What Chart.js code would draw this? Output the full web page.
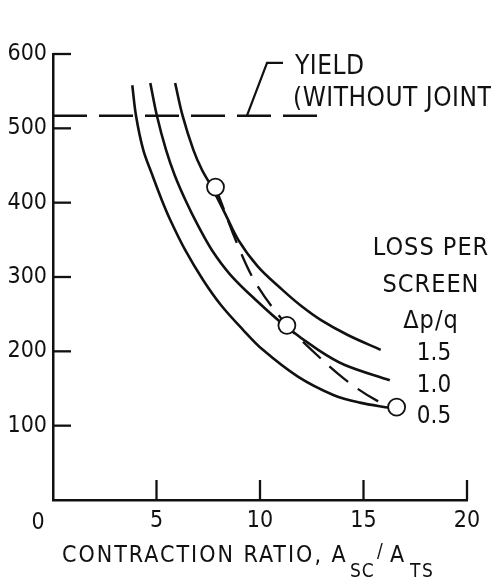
<!DOCTYPE html>
<html><head><meta charset="utf-8">
<script src="https://cdn.jsdelivr.net/npm/chart.js@4"></script>
<style>html,body{margin:0;padding:0;background:#fff;}</style>
</head><body>
<canvas id="c" width="491" height="583"></canvas>
<script>
const FONT = '"DejaVu Sans Condensed","DejaVu Sans",sans-serif';
const INK = '#111';

// axis ticks
const xTicks = [0, 5, 10, 15, 20];
const yTicks = [100, 200, 300, 400, 500, 600];

// loss per screen curves (dp/q)
const lossLabels = ['1.5', '1.0', '0.5'];
const curve15X = [5.90, 6.26, 6.78, 7.20, 7.67, 8.32, 8.95, 9.90, 11.07, 11.95, 12.95, 14.24, 15.83];
const curve15Y = [561, 517, 471, 444, 421, 385, 350, 314, 283, 262, 242, 222, 202];
const curve10X = [4.70, 5.02, 5.46, 5.88, 6.39, 6.99, 7.68, 8.57, 9.80, 11.18, 12.81, 14.07, 16.27];
const curve10Y = [561, 517, 471, 437, 404, 370, 336, 303, 269, 235, 202, 182, 161];
const curve05X = [3.83, 4.01, 4.36, 4.80, 5.25, 5.66, 6.39, 7.25, 8.12, 9.18, 10.14, 11.83, 13.57, 14.82, 16.27];
const curve05Y = [558, 517, 471, 437, 404, 377, 336, 296, 262, 229, 202, 166, 141, 131, 124];

// optimum (dashed) line and circled points
const optX = [7.85, 9.04, 9.90, 11.30, 12.41, 14.07, 15.69, 16.6];
const optY = [421, 335, 287, 235, 204, 163, 133, 125];
const circX = [7.85, 11.30, 16.6];
const circY = [421, 235, 125];

// yield (without joint)
const yieldX = [0, 13.05];
const yieldY = [517, 517];
const leaderX = [9.37, 10.34, 11.11];
const leaderY = [517, 588, 588];

const pts = (xs, ys) => xs.map((v, i) => ({x: v, y: ys[i]}));
const curveDs = (xs, ys) => ({
  data: pts(xs, ys), borderColor: INK, borderWidth: 2.6, pointRadius: 0,
  tension: 0.35, fill: false, order: 2
});

const decor = {
  id: 'decor',
  afterDraw(chart) {
    const {ctx, scales: {x, y}} = chart;
    const left = x.getPixelForValue(0), bottom = y.getPixelForValue(0);
    ctx.save();
    ctx.strokeStyle = INK; ctx.fillStyle = INK; ctx.lineWidth = 2.3;
    // inward ticks
    xTicks.forEach(v => { if (v === 0) return; const px = x.getPixelForValue(v);
      ctx.beginPath(); ctx.moveTo(px, bottom); ctx.lineTo(px, bottom - 20); ctx.stroke(); });
    yTicks.forEach(v => { const py = y.getPixelForValue(v);
      ctx.beginPath(); ctx.moveTo(left, py); ctx.lineTo(left + 18, py); ctx.stroke(); });
    // leader of yield note
    ctx.lineWidth = 2.2;
    ctx.beginPath();
    leaderX.forEach((v, i) => { const px = x.getPixelForValue(v), py = y.getPixelForValue(leaderY[i]);
      i ? ctx.lineTo(px, py) : ctx.moveTo(px, py); });
    ctx.stroke();
    // origin label
    ctx.font = '23px ' + FONT; ctx.textAlign = 'center'; ctx.textBaseline = 'alphabetic';
    ctx.fillText('0', left - 15, bottom + 29);
    // yield text
    ctx.textAlign = 'left';
    ctx.font = '26px ' + FONT; ctx.letterSpacing = '0.5px';
    ctx.fillText('YIELD', 295, 74);
    ctx.fillText('(WITHOUT JOINT', 293, 106);
    // loss labels
    ctx.font = '25px ' + FONT;
    ctx.textAlign = 'center'; ctx.letterSpacing = '1px';
    ctx.fillText('LOSS PER', 431, 255);
    ctx.fillText('SCREEN', 431, 292);
    ctx.fillText('\u0394p/q', 431, 328);
    ctx.letterSpacing = '0px';
    ctx.font = '24px ' + FONT;
    const base = [360, 392, 423];
    lossLabels.forEach((t, i) => ctx.fillText(t, 434, base[i]));
    // x title with subscripts
    ctx.textAlign = 'left';
    const piece = (t, size, px, yb, sp) => { ctx.font = size + 'px ' + FONT; ctx.letterSpacing = sp + 'px';
      ctx.fillText(t, px, yb); };
    piece('CONTRACTION RATIO, A', 23, 62, 562, 2);
    piece('SC', 19, 350, 577, 1);
    piece('/', 19, 377, 557, 0);
    piece('A', 23, 390, 562, 0);
    piece('TS', 19, 410, 577, 1.5);
    ctx.restore();
  }
};

new Chart(document.getElementById('c'), {
  type: 'line',
  data: {
    datasets: [
      curveDs(curve15X, curve15Y),
      curveDs(curve10X, curve10Y),
      curveDs(curve05X, curve05Y),
      { data: pts(yieldX, yieldY), borderColor: INK, borderWidth: 2.5, borderDash: [34, 12],
        pointRadius: 0, tension: 0, order: 2 },
      { data: pts(optX, optY), borderColor: INK, borderWidth: 2.3, borderDash: [24, 12],
        pointRadius: 0, tension: 0.35, order: 1 },
      { data: pts(circX, circY), showLine: false, pointRadius: 8.5, pointBackgroundColor: '#fff',
        pointBorderColor: INK, pointBorderWidth: 1.8, order: 0 }
    ]
  },
  options: {
    responsive: false, animation: false, devicePixelRatio: 1,
    layout: {padding: {top: 54, right: 24, bottom: 0, left: 0}},
    plugins: {legend: {display: false}, tooltip: {enabled: false}},
    scales: {
      x: {
        type: 'linear', min: 0, max: 20,
        afterFit: s => { s.height = 83; },
        grid: {display: false, drawTicks: false},
        border: {display: true, color: INK, width: 2.5},
        ticks: {stepSize: 5, padding: 7, color: INK, font: {family: FONT, size: 23},
          callback: v => (v === 0 ? '' : String(v))}
      },
      y: {
        min: 0, max: 600,
        afterFit: s => { s.width = 53; },
        grid: {display: false, drawTicks: false},
        border: {display: true, color: INK, width: 2.5},
        ticks: {stepSize: 100, padding: 6, color: INK, font: {family: FONT, size: 23},
          callback: v => (v === 0 ? '' : String(v))}
      }
    }
  },
  plugins: [decor]
});
</script>
</body></html>
